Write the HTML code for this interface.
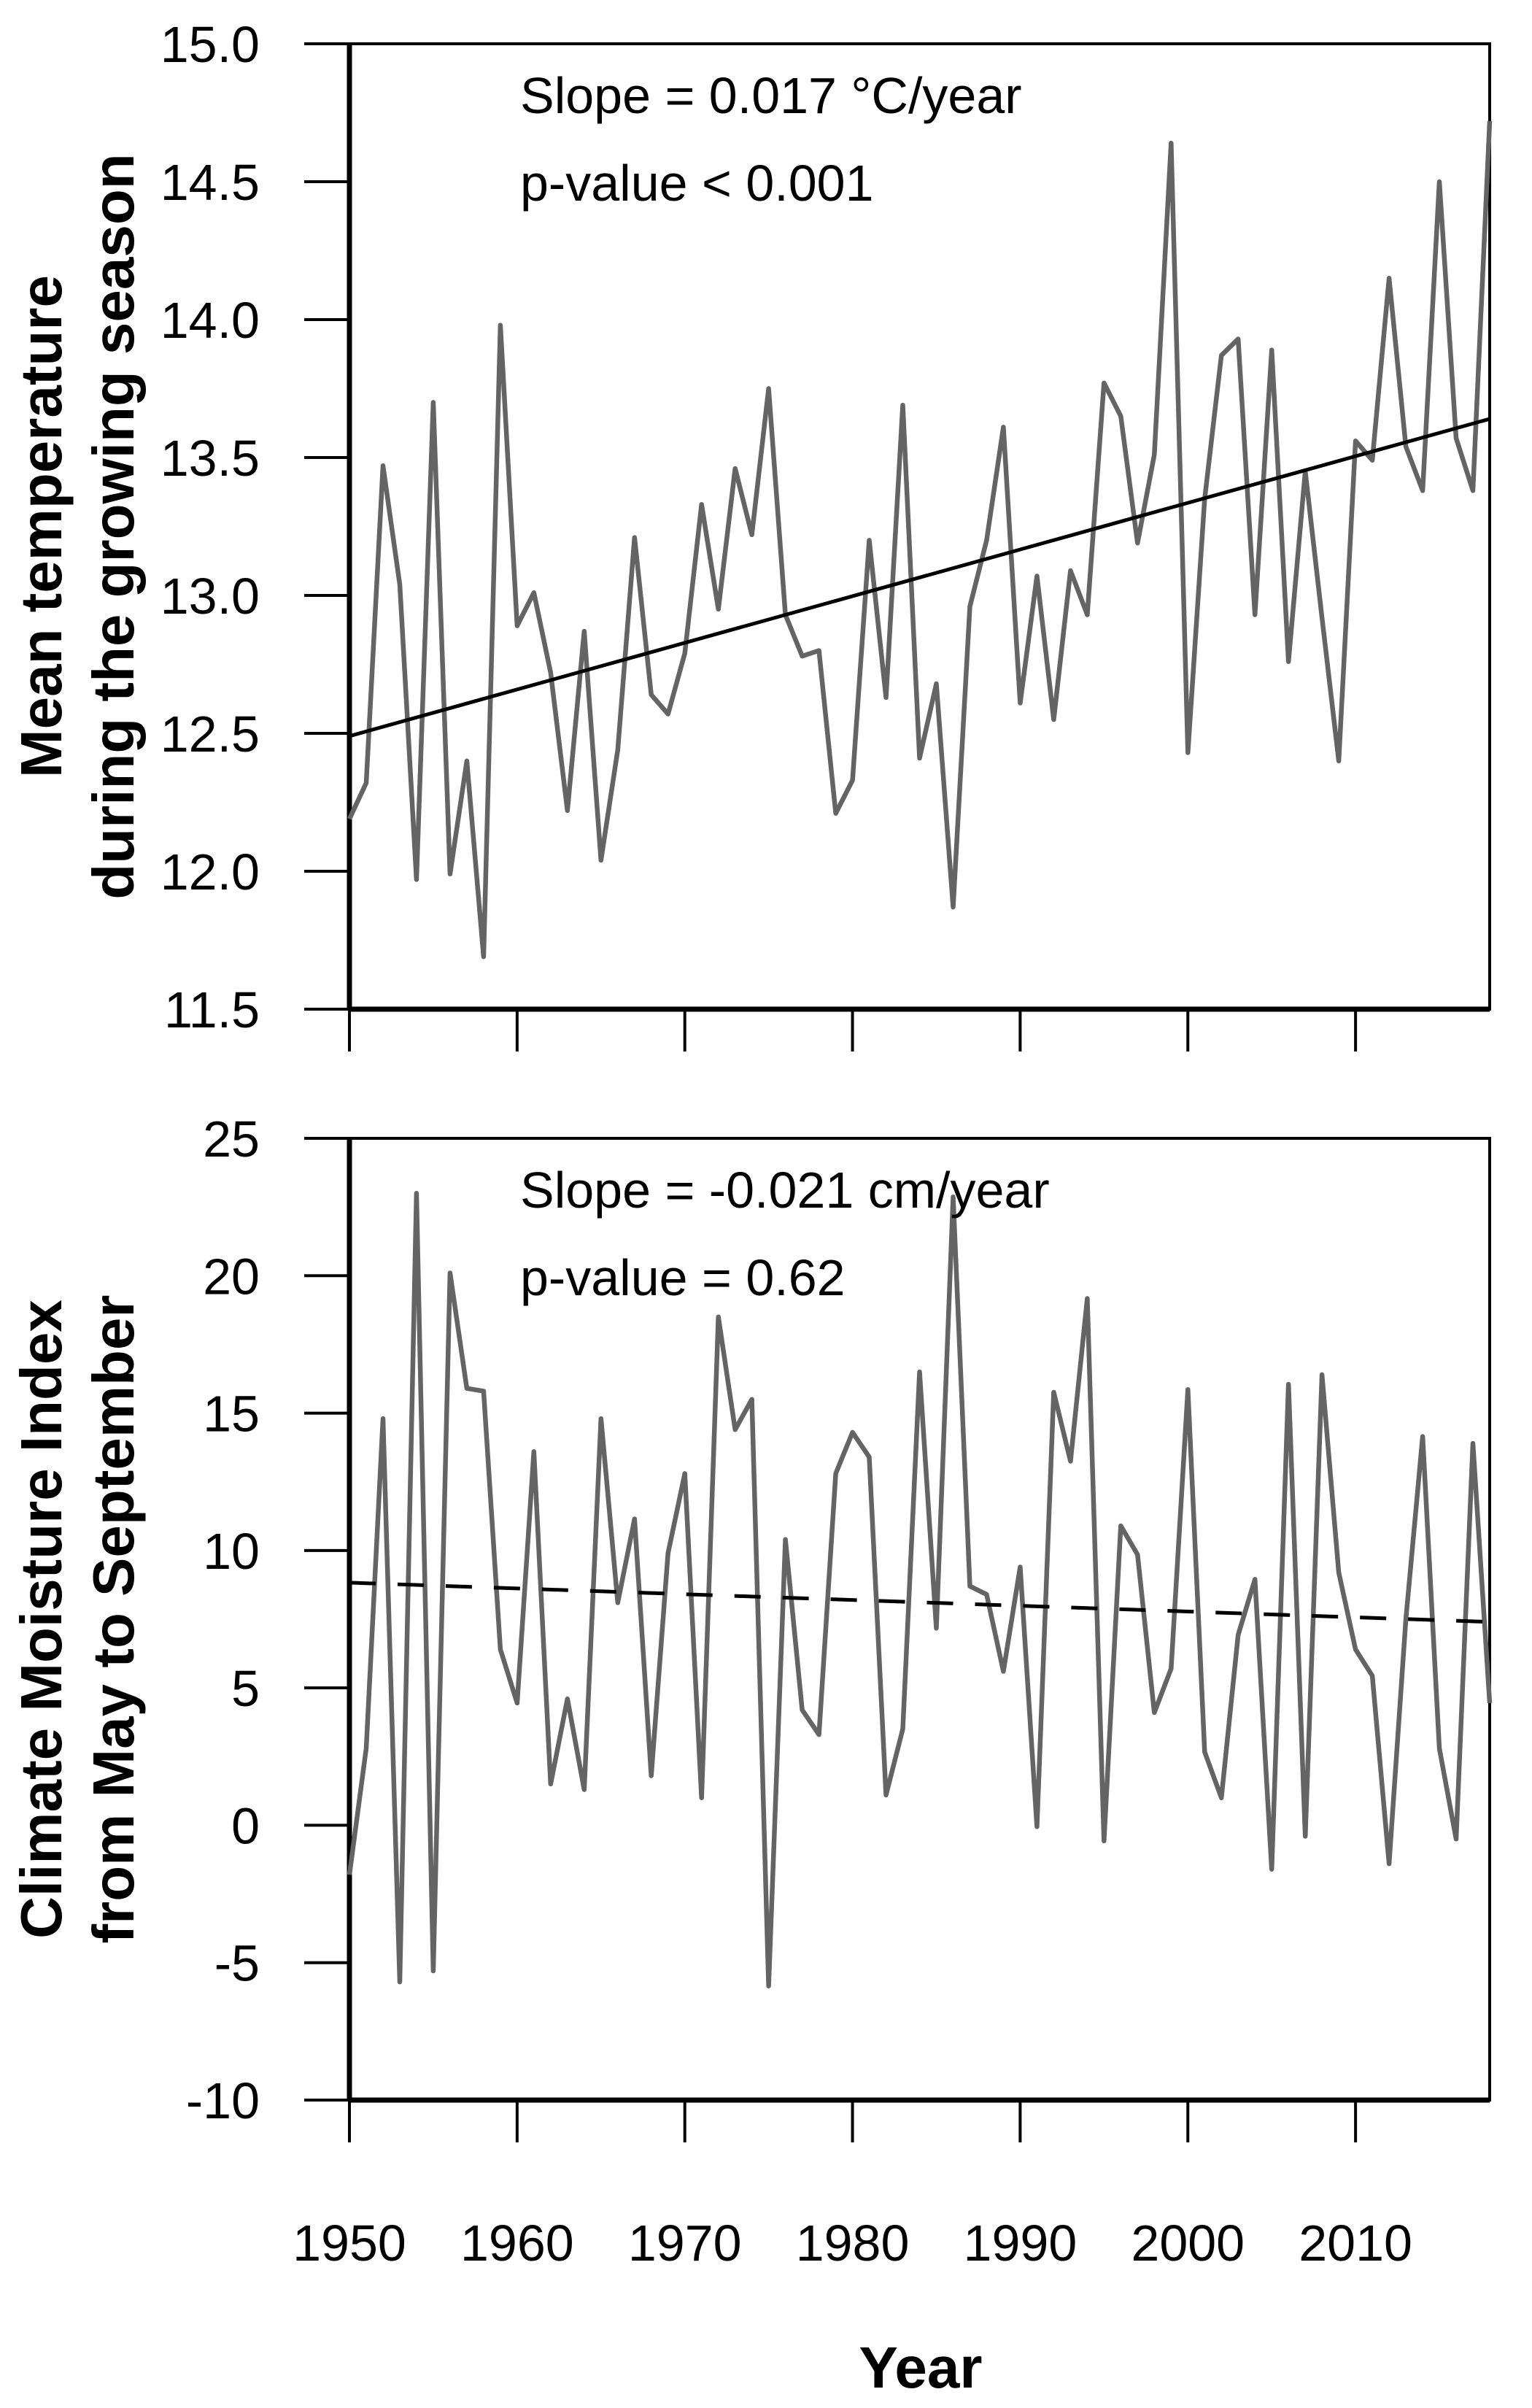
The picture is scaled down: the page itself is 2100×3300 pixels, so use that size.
<!DOCTYPE html>
<html><head><meta charset="utf-8"><style>
html,body{margin:0;padding:0;background:#fff}
svg{display:block}
text{font-family:"Liberation Sans",Arial,sans-serif;fill:#000}
</style></head><body>
<svg id="chart" width="2100" height="3300" viewBox="0 0 2100 3300"></svg>
<script>
const years = [];
for (let y = 1950; y <= 2018; y++) years.push(y);
const tempValues = [12.19,12.32,13.47,13.04,11.97,13.70,11.99,12.40,11.69,13.98,12.89,13.01,12.72,12.22,12.87,12.04,12.44,13.21,12.64,12.57,12.79,13.33,12.95,13.46,13.22,13.75,12.93,12.78,12.80,12.21,12.33,13.20,12.63,13.69,12.41,12.68,11.87,12.96,13.20,13.61,12.61,13.07,12.55,13.09,12.93,13.77,13.65,13.19,13.51,14.64,12.43,13.35,13.87,13.93,12.93,13.89,12.76,13.45,12.92,12.40,13.56,13.49,14.15,13.54,13.38,14.50,13.57,13.38,14.72];
const cmiValues = [-1.8,2.8,14.8,-5.7,23.0,-5.3,20.1,15.9,15.8,6.4,4.45,13.6,1.5,4.6,1.3,14.8,8.1,11.15,1.8,9.9,12.8,1.0,18.5,14.4,15.5,-5.85,10.4,4.2,3.3,12.8,14.3,13.4,1.1,3.5,16.5,7.17,22.87,8.7,8.4,5.6,9.4,-0.05,15.76,13.25,19.17,-0.57,10.9,9.85,4.1,5.7,15.86,2.67,1.0,6.93,8.95,-1.6,16.05,-0.4,16.4,9.2,6.4,5.44,-1.4,7.5,14.15,2.8,-0.5,13.9,4.45];
const tempTrend = [12.49, 13.64];
const cmiTrend = [8.83, 7.4];
const xTickLabels = [1950,1960,1970,1980,1990,2000,2010];
const tempTicks = ["15.0","14.5","14.0","13.5","13.0","12.5","12.0","11.5"];
const cmiTicks = ["25","20","15","10","5","0","-5","-10"];

const NS = "http://www.w3.org/2000/svg";
const svg = document.getElementById("chart");
const X0 = 479, X1 = 2042, Y0 = 1950, Y1 = 2018;
const xs = y => X0 + (y - Y0) / (Y1 - Y0) * (X1 - X0);
function mk(tag, attrs, parent) {
  const e = document.createElementNS(NS, tag);
  for (const k in attrs) e.setAttribute(k, attrs[k]);
  (parent || svg).appendChild(e);
  return e;
}

function panel(cfg) {
  const g = mk("g", {});
  
  
  const ys = v => cfg.top + (cfg.vmax - v) / (cfg.vmax - cfg.vmin) * (cfg.bottom - cfg.top);
  const fr = mk("rect", {x: X0, y: cfg.top, width: X1 - X0, height: cfg.bottom - cfg.top, fill: "none", stroke: "#000", "stroke-width": 4}, g);
  
  
  mk("line", {x1: X0, y1: cfg.top, x2: X0, y2: cfg.bottom, stroke: "#000", "stroke-width": 7}, g);
  mk("line", {x1: X0, y1: cfg.bottom, x2: X1, y2: cfg.bottom, stroke: "#000", "stroke-width": 7}, g);
  cfg.ticks.forEach(t => {
    const y = ys(parseFloat(t));
    const l = mk("line", {x1: 417, y1: y, x2: X0, y2: y, stroke: "#000", "stroke-width": 4}, g);
    
    
    const tx = mk("text", {x: 356, y: y + 25, "text-anchor": "end", "font-size": 70}, g);
    tx.textContent = t;
    
    
  });
  xTickLabels.forEach(yr => {
    const l = mk("line", {x1: xs(yr), y1: cfg.bottom, x2: xs(yr), y2: cfg.bottom + 58, stroke: "#000", "stroke-width": 4}, g);
    
    
  });
  const pts = cfg.values.map((v, i) => xs(years[i]).toFixed(1) + "," + ys(v).toFixed(1)).join(" ");
  const pl = mk("polyline", {points: pts, fill: "none", stroke: "#646464", "stroke-width": 6.5, "stroke-linejoin": "round"}, g);
  
  
  const tl = mk("line", {x1: xs(Y0), y1: ys(cfg.trend[0]), x2: xs(Y1), y2: ys(cfg.trend[1]), stroke: "#000", "stroke-width": 5}, g);
  if (cfg.dashed) tl.setAttribute("stroke-dasharray", "36,30");
  
  
  const a1 = mk("text", {x: 713, y: cfg.top + 95, "font-size": 70}, g);
  a1.textContent = cfg.ann1;
  
  
  const a2 = mk("text", {x: 713, y: cfg.top + 215, "font-size": 70}, g);
  a2.textContent = cfg.ann2;
  
  
  const cy = (cfg.top + cfg.bottom) / 2;
  const t1 = mk("text", {x: 0, y: 0, transform: `translate(84,${cy}) rotate(-90)`, "text-anchor": "middle", "font-size": 80, "font-weight": "bold"}, g);
  t1.textContent = cfg.title1;
  
  
  const t2 = mk("text", {x: 0, y: 0, transform: `translate(183,${cy}) rotate(-90)`, "text-anchor": "middle", "font-size": 80, "font-weight": "bold"}, g);
  t2.textContent = cfg.title2;
  
  
  return ys;
}

panel({name: "temperature-panel", top: 60, bottom: 1383, vmin: 11.5, vmax: 15, ticks: tempTicks, values: tempValues, trend: tempTrend, dashed: false, seriesName: "temperature-line", ann1: "Slope = 0.017 °C/year", ann2: "p-value < 0.001", title1: "Mean temperature", title2: "during the growing season"});
panel({name: "moisture-panel", top: 1560, bottom: 2878, vmin: -10, vmax: 25, ticks: cmiTicks, values: cmiValues, trend: cmiTrend, dashed: true, seriesName: "moisture-index-line", ann1: "Slope = -0.021 cm/year", ann2: "p-value = 0.62", title1: "Climate Moisture Index", title2: "from May to September"});

xTickLabels.forEach(yr => {
  const t = mk("text", {x: xs(yr), y: 3098, "text-anchor": "middle", "font-size": 70});
  t.textContent = String(yr);
  
  
});
const xt = mk("text", {x: 1262, y: 3272, "text-anchor": "middle", "font-size": 80, "font-weight": "bold"});
xt.textContent = "Year";


</script>
</body></html>
